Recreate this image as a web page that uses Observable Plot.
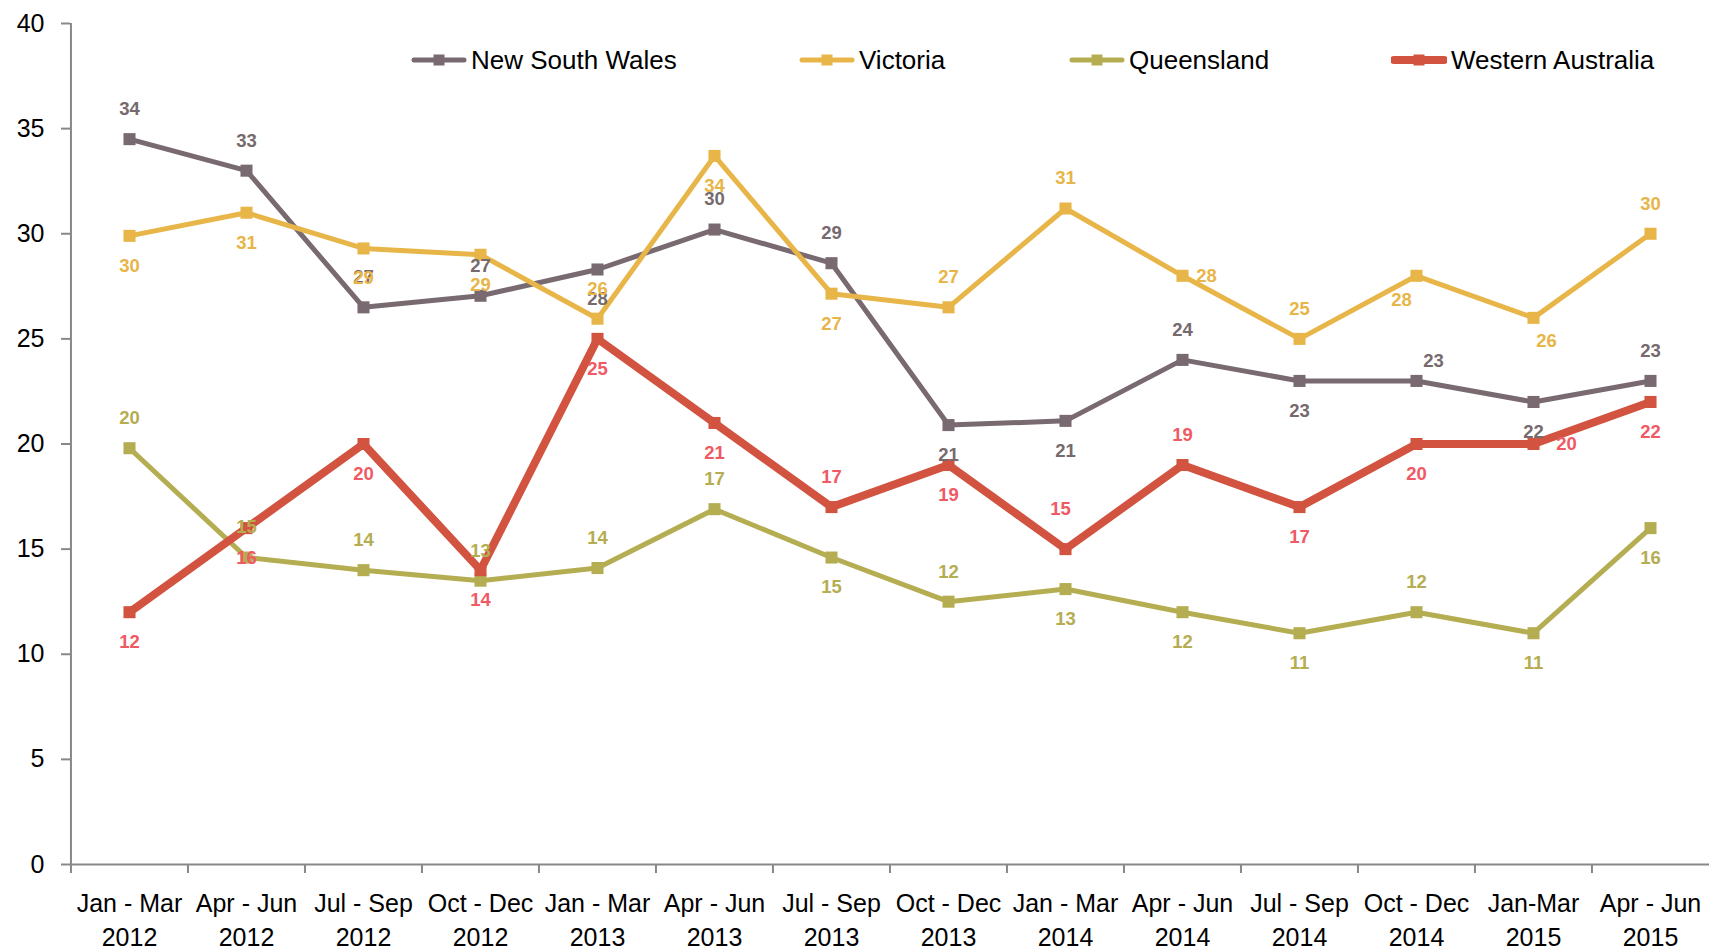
<!DOCTYPE html>
<html>
<head>
<meta charset="utf-8">
<script src="https://cdn.jsdelivr.net/npm/d3@7"></script>
<script src="https://cdn.jsdelivr.net/npm/@observablehq/plot@0.6"></script>
<style>
  html, body { margin: 0; padding: 0; background: #fff; overflow: hidden; }
  #wrap { position: relative; width: 1709px; height: 949px; font-family: "Liberation Sans", Arial, sans-serif; }
  #wrap > svg { overflow: visible; }
  #legend { position: absolute; left: 0; top: 0; width: 1709px; height: 100px; pointer-events: none; }
  .item { position: absolute; top: 44px; height: 32px; display: flex; align-items: center; font-size: 26px; color: #000; white-space: nowrap; }
  .item svg { margin-right: 4px; }
</style>
</head>
<body>
<div id="wrap"><div id="legend"></div></div>
<script>
// ---- data ----
const quarters = ["Jan - Mar", "Apr - Jun", "Jul - Sep", "Oct - Dec", "Jan - Mar", "Apr - Jun", "Jul - Sep", "Oct - Dec", "Jan - Mar", "Apr - Jun", "Jul - Sep", "Oct - Dec", "Jan-Mar", "Apr - Jun"];
const years = ["2012", "2012", "2012", "2012", "2013", "2013", "2013", "2013", "2014", "2014", "2014", "2014", "2015", "2015"];
const seriesNames = ["New South Wales", "Victoria", "Queensland", "Western Australia"];

const nswValues = [34.5, 33.0, 26.5, 27.05, 28.3, 30.2, 28.6, 20.9, 21.1, 24.0, 23.0, 23.0, 22.0, 23.0];
const vicValues = [29.9, 31.0, 29.3, 29.0, 25.96, 33.7, 27.15, 26.5, 31.2, 28.0, 25.0, 28.0, 26.0, 30.0];
const qldValues = [19.8, 14.6, 14.0, 13.5, 14.1, 16.9, 14.6, 12.5, 13.1, 12.0, 11.0, 12.0, 11.0, 16.0];
const waValues  = [12.0, 16.0, 20.0, 14.0, 25.0, 21.0, 17.0, 19.0, 15.0, 19.0, 17.0, 20.0, 20.0, 22.0];

const nswLabels = [34, 33, 27, 27, 28, 30, 29, 21, 21, 24, 23, 23, 22, 23];
const vicLabels = [30, 31, 29, 29, 26, 34, 27, 27, 31, 28, 25, 28, 26, 30];
const qldLabels = [20, 15, 14, 13, 14, 17, 15, 12, 13, 12, 11, 12, 11, 16];
const waLabels  = [12, 16, 20, 14, 25, 21, 17, 19, 15, 19, 17, 20, 20, 22];

// label placement keywords (relative to each point)
const nswPlace = ["above","above","above","above","below","above","above","below","below","above","below","aboveRight","below","above"];
const vicPlace = ["below","below","below","below","above","below","below","above","above","right","above","belowLeft","belowRight","above"];
const qldPlace = ["above","above","above","above","above","above","below","above","below","below","below","above","below","below"];
const waPlace  = ["below","below","below","below","below","below","above","below","highAbove","above","below","below","farRight","below"];

// ---- styles ----
const lineColors  = {"New South Wales": "#786A70", "Victoria": "#E8B548", "Queensland": "#B5AD52", "Western Australia": "#D2533F"};
const labelColors = {"New South Wales": "#766A6E", "Victoria": "#E8B548", "Queensland": "#B5AD52", "Western Australia": "#F05A64"};
const lineWidths  = {"New South Wales": 5, "Victoria": 5, "Queensland": 5, "Western Australia": 8};
const offsets = {
  above: [0, -30], below: [0, 30], right: [24, 0], farRight: [33, 0],
  aboveRight: [17, -20], belowLeft: [-15, 24], belowRight: [13, 23], highAbove: [-5, -40]
};

const categories = quarters.map((q, i) => q + "\n" + years[i]);
const valueSets = [nswValues, vicValues, qldValues, waValues];
const labelSets = [nswLabels, vicLabels, qldLabels, waLabels];
const placeSets = [nswPlace, vicPlace, qldPlace, waPlace];

const rows = [];
seriesNames.forEach((s, si) => {
  categories.forEach((c, i) => {
    rows.push({series: s, cat: c, value: valueSets[si][i], label: String(labelSets[si][i]), place: placeSets[si][i]});
  });
});

const W = 1709, H = 949;
const mL = 70, mR = 0, mT = 23, mB = 85;
const step = (W - mL - mR) / categories.length;

const marks = [];
// axes
marks.push(Plot.axisY({ticks: d3.range(0, 41, 5), tickSize: 9, tickPadding: 17, fontSize: 25, stroke: "#888", strokeWidth: 2, fill: "#000", label: null}));
marks.push(Plot.axisX({tickSize: 0, tickPadding: 23, fontSize: 25, lineHeight: 1.38, fill: "#000", label: null}));
// y axis line
marks.push(Plot.ruleX([categories[0]], {y1: 0, y2: 40, dx: -step / 2, stroke: "#888", strokeWidth: 2}));
// x axis line
marks.push(Plot.ruleY([0], {stroke: "#888", strokeWidth: 2}));
// x ticks at category boundaries
marks.push(Plot.ruleX(categories, {y1: 0, y2: 0, insetBottom: -9, dx: -step / 2, stroke: "#888", strokeWidth: 2}));

// lines + markers
seriesNames.forEach(s => {
  const d = rows.filter(r => r.series === s);
  marks.push(Plot.line(d, {x: "cat", y: "value", stroke: lineColors[s], strokeWidth: lineWidths[s], strokeLinejoin: "miter"}));
  marks.push(Plot.dot(d, {x: "cat", y: "value", symbol: "square", r: 6.8, fill: lineColors[s], stroke: "none"}));
});
// labels
seriesNames.forEach(s => {
  Object.keys(offsets).forEach(k => {
    const d = rows.filter(r => r.series === s && r.place === k);
    if (!d.length) return;
    marks.push(Plot.text(d, {x: "cat", y: "value", text: "label", dx: offsets[k][0], dy: offsets[k][1],
      fill: labelColors[s], fontSize: 18.5, fontWeight: "bold", textAnchor: "middle"}));
  });
});

const chart = Plot.plot({
  width: W, height: H,
  marginLeft: mL, marginRight: mR, marginTop: mT, marginBottom: mB,
  style: {fontFamily: "'Liberation Sans', Arial, sans-serif", background: "#fff", overflow: "visible"},
  x: {type: "point", domain: categories, padding: 0.5},
  y: {domain: [0, 40]},
  marks
});
document.getElementById("wrap").prepend(chart);

// legend overlay
const legendPos = [411, 799, 1069, 1391];
const legend = document.getElementById("legend");
seriesNames.forEach((s, i) => {
  const item = document.createElement("div");
  item.className = "item";
  item.style.left = legendPos[i] + "px";
  const lw = lineWidths[s];
  item.innerHTML = `<svg width="56" height="20" viewBox="0 0 56 20">
    <line x1="3" y1="10" x2="53" y2="10" stroke="${lineColors[s]}" stroke-width="${lw}" stroke-linecap="round"/>
    <rect x="22.5" y="4.5" width="11" height="11" fill="${lineColors[s]}"/></svg><span>${s}</span>`;
  legend.appendChild(item);
});
</script>
</body>
</html>
